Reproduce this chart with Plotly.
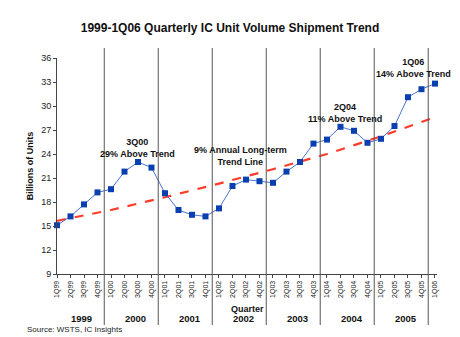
import plotly.graph_objects as go

# Quarterly IC unit shipments (billions of units)
quarters = [
    "1Q99", "2Q99", "3Q99", "4Q99",
    "1Q00", "2Q00", "3Q00", "4Q00",
    "1Q01", "2Q01", "3Q01", "4Q01",
    "1Q02", "2Q02", "3Q02", "4Q02",
    "1Q03", "2Q03", "3Q03", "4Q03",
    "1Q04", "2Q04", "3Q04", "4Q04",
    "1Q05", "2Q05", "3Q05", "4Q05",
    "1Q06",
]
units = [
    15.1, 16.2, 17.7, 19.2,
    19.6, 21.8, 23.0, 22.3,
    19.1, 17.0, 16.4, 16.2,
    17.2, 20.0, 20.8, 20.6,
    20.4, 21.8, 23.0, 25.3,
    25.8, 27.4, 26.9, 25.4,
    25.9, 27.5, 31.1, 32.1,
    32.8,
]

# 9% annual long-term trend, read at each first quarter
trend_quarters = ["1Q99", "1Q00", "1Q01", "1Q02", "1Q03", "1Q04", "1Q05", "1Q06"]
trend_values = [15.65, 17.0, 18.6, 20.3, 22.1, 24.0, 26.2, 28.6]

years = ["1999", "2000", "2001", "2002", "2003", "2004", "2005"]
y_ticks = [9, 12, 15, 18, 21, 24, 27, 30, 33, 36]

xpos = list(range(len(quarters)))
trend_x = [quarters.index(q) for q in trend_quarters]

# plot-area geometry (pixels) used to place text in paper coordinates
PLOT_LEFT, PLOT_BOTTOM, PLOT_W, PLOT_H = 57, 274, 380, 216


def px_y(py):
    return (PLOT_BOTTOM - py) / PLOT_H


def px_x(px):
    return (px - PLOT_LEFT) / PLOT_W


fig = go.Figure()

fig.add_trace(go.Scatter(
    x=trend_x, y=trend_values, mode="lines",
    line=dict(color="#ff3b2a", width=2.2, dash="dash"),
    hoverinfo="skip", showlegend=False,
))
fig.add_trace(go.Scatter(
    x=xpos, y=units, mode="lines+markers",
    line=dict(color="#4a72d0", width=1),
    marker=dict(symbol="square", size=6, color="#0a3fb0",
                line=dict(color="#0a3fb0", width=0)),
    cliponaxis=False, showlegend=False,
))

# year separators spanning beyond the plot into the label area
shapes = []
for k in range(1, len(years) + 1):
    xs = 4 * k - 0.5
    shapes.append(dict(type="line", xref="x", yref="paper",
                       x0=xs, x1=xs, y0=px_y(325), y1=px_y(48),
                       line=dict(color="#555555", width=1)))

annotations = []
for k, yr in enumerate(years):
    annotations.append(dict(x=4 * k + 1.85, y=px_y(318.5), xref="x", yref="paper",
                            text="<b>%s</b>" % yr, showarrow=False,
                            font=dict(size=9.5, color="#111111"),
                            xanchor="center", yanchor="middle"))

notes = [
    (6.0, px_y(147.5), "<b>3Q00<br>29% Above Trend</b>"),
    (13.6, px_y(156), "<b>9% Annual Long-term<br>Trend Line</b>"),
    (21.3, px_y(113.3), "<b>2Q04<br>11% Above Trend</b>"),
    (26.4, px_y(68), "<b>1Q06<br>14% Above Trend</b>"),
]
for x, y, t in notes:
    annotations.append(dict(x=x, y=y, xref="x", yref="paper", text=t,
                            showarrow=False, align="center",
                            font=dict(size=9, color="#111111"),
                            xanchor="center", yanchor="middle"))

annotations.append(dict(x=0.5, y=px_y(309), xref="paper", yref="paper",
                        text="<b>Quarter</b>", showarrow=False,
                        font=dict(size=9, color="#111111"),
                        xanchor="center", yanchor="middle"))
annotations.append(dict(x=px_x(25), y=px_y(329.5), xref="paper", yref="paper",
                        text="Source: WSTS, IC Insights", showarrow=False,
                        font=dict(size=8, color="#222222"),
                        xanchor="left", yanchor="middle"))

fig.update_layout(
    width=460, height=337,
    margin=dict(l=57, r=23, t=58, b=63),
    paper_bgcolor="white", plot_bgcolor="white",
    font=dict(family="Liberation Sans, Arial, sans-serif", color="#111111"),
    title=dict(text="<b>1999-1Q06 Quarterly IC Unit Volume Shipment Trend</b>",
               x=0.5, xanchor="center", y=1 - 28 / 337.0, yanchor="middle",
               font=dict(size=12, color="#111111")),
    xaxis=dict(range=[0, 28.15], tickmode="array", tickvals=xpos,
               ticktext=quarters, tickangle=-90,
               tickfont=dict(size=7, color="#222222"),
               ticks="outside", ticklen=3, tickcolor="#444444",
               showline=True, linecolor="#444444", linewidth=1,
               showgrid=False, zeroline=False, fixedrange=True),
    yaxis=dict(range=[9, 36], tickmode="array", tickvals=y_ticks,
               ticks="outside", ticklen=3, tickcolor="#444444",
               tickfont=dict(size=9, color="#222222"),
               showline=True, linecolor="#444444", linewidth=1,
               showgrid=False, zeroline=False,
               title=dict(text="<b>Billions of Units</b>",
                          font=dict(size=9), standoff=6)),
    shapes=shapes,
    annotations=annotations,
    showlegend=False,
)

fig.write_html("out.html")
